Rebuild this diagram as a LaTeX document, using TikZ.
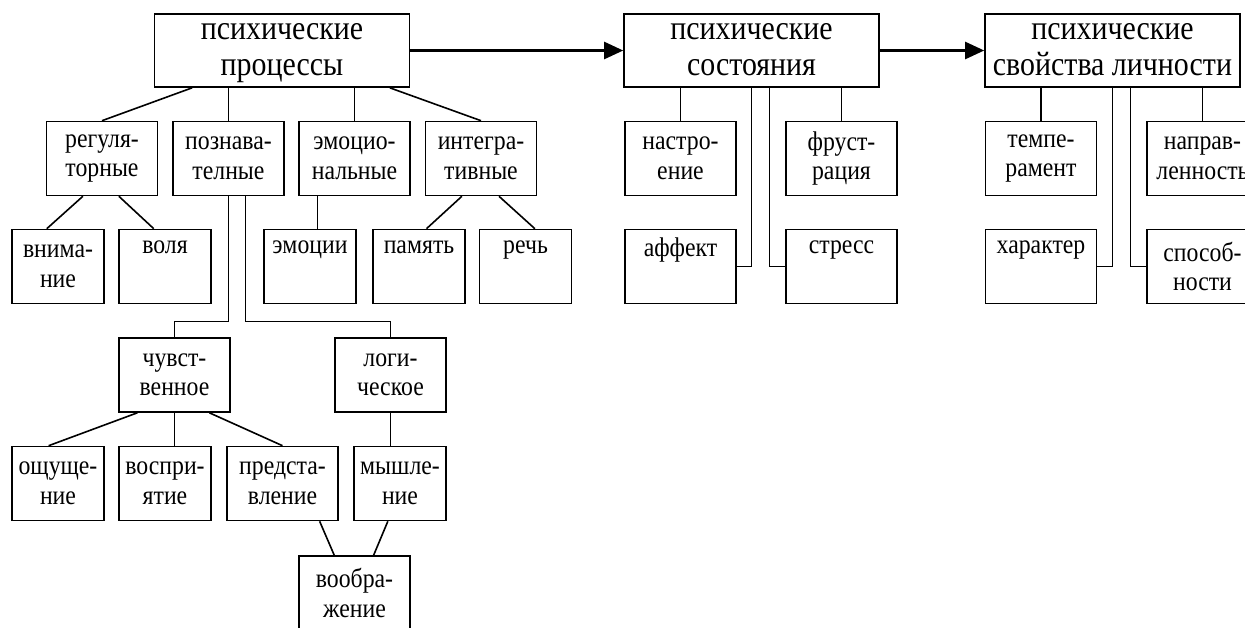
\documentclass[tikz,border=0pt]{standalone}
\usepackage{fontspec}
\setmainfont{Liberation Serif}[FakeStretch=0.88]
\usepackage{tikz}
\usetikzlibrary{arrows.meta,calc}
\newcommand\bigtxt{\fontsize{34}{36}\selectfont}
\newcommand\smtxt{\fontsize{27}{29.5}\selectfont}
\tikzstyle{box} = [draw, line width=1.6pt, align=center, inner sep=0pt, font=\smtxt, minimum height=74pt]
\tikzstyle{head} = [box, font=\bigtxt, minimum width=255pt, minimum height=73pt]
\tikzstyle{wide} = [box, minimum width=111pt]
\tikzstyle{narrow} = [box, minimum width=92pt]
\tikzstyle{arr} = [line width=2.4pt, -{Triangle[length=19pt,width=17pt]}]
\begin{document}
\begin{tikzpicture}[x=1pt,y=-1pt,line width=1.6pt]
  \useasboundingbox (0,0) rectangle (1245,627);
  % main row
  \node[head] (P) at (282,50.5) {\strut психические\\процессы\strut};
  \node[head] (S) at (751.5,50.5) {\strut психические\\состояния\strut};
  \node[head] (L) at (1112.5,50.5) {\strut психические\\свойства личности\strut};
  \draw[arr] (P.east) -- (S.west);
  \draw[arr] (S.east) -- (L.west);
  % processes
  \node[wide] (reg) at (102,158.5) {регуля-\\торные};
  \node[wide] (poz) at (228.5,158.5) {познава-\\телные};
  \node[wide] (emo) at (354.5,158.5) {эмоцио-\\нальные};
  \node[wide] (int) at (481,158.5) {интегра-\\тивные};
  \node[narrow] (vni) at (58,266.5) {внима-\\ние};
  \node[narrow] (vol) at (165,266.5) {воля\\\strut};
  \node[narrow] (emc) at (310,266.5) {эмоции\\\strut};
  \node[narrow] (pam) at (419,266.5) {память\\\strut};
  \node[narrow] (rec) at (525.5,266.5) {речь\\\strut};
  \node[wide] (chuv) at (174.5,375) {чувст-\\венное};
  \node[wide] (log) at (390.5,375) {логи-\\ческое};
  \node[narrow] (osh) at (58,483.5) {ощуще-\\ние};
  \node[narrow] (vos) at (165,483.5) {воспри-\\ятие};
  \node[wide] (pre) at (282.5,483.5) {предста-\\вление};
  \node[narrow] (mys) at (400,483.5) {мышле-\\ние};
  \node[wide] (voo) at (354.5,593) {вообра-\\жение};
  \draw ($(P.south west)!.15!(P.south east)$) -- (reg.north);
  \draw (poz.north) -- (poz.north |- P.south);
  \draw (emo.north) -- (emo.north |- P.south);
  \draw ($(P.south west)!.92!(P.south east)$) -- (int.north);
  \draw ($(reg.south west)!.33!(reg.south east)$) -- ($(vni.north west)!.38!(vni.north east)$);
  \draw ($(reg.south west)!.65!(reg.south east)$) -- ($(vol.north west)!.38!(vol.north east)$);
  \coordinate (e1) at ($(emo.south west)!.17!(emo.south east)$);
  \draw (e1) -- (e1 |- emc.north);
  \draw ($(int.south west)!.33!(int.south east)$) -- ($(pam.north west)!.58!(pam.north east)$);
  \draw ($(int.south west)!.66!(int.south east)$) -- ($(rec.north west)!.6!(rec.north east)$);
  \draw (poz.south) -- ++(0,125) -| (chuv.north);
  \draw ($(poz.south west)!.65!(poz.south east)$) -- ++(0,125) -| (log.north);
  \draw ($(chuv.south west)!.17!(chuv.south east)$) -- ($(osh.north west)!.4!(osh.north east)$);
  \draw (chuv.south) -- (chuv.south |- vos.north);
  \draw ($(chuv.south west)!.81!(chuv.south east)$) -- (pre.north);
  \draw (log.south) -- (log.south |- mys.north);
  \draw ($(pre.south west)!.83!(pre.south east)$) -- ($(voo.north west)!.32!(voo.north east)$);
  \draw ($(mys.south west)!.37!(mys.south east)$) -- ($(voo.north west)!.67!(voo.north east)$);
  % states
  \node[wide] (nas) at (680.5,158.5) {настро-\\ение};
  \node[wide] (fru) at (841.5,158.5) {фруст-\\рация};
  \node[wide] (aff) at (680.5,266.5) {аффект\\\strut};
  \node[wide] (str) at (841.5,266.5) {стресс\\\strut};
  \draw (nas.north) -- (nas.north |- S.south);
  \draw (fru.north) -- (fru.north |- S.south);
  \draw (aff.east) -| (S.south);
  \draw (str.west) -| ($(S.south west)!.57!(S.south east)$);
  % personality
  \node[wide] (tem) at (1041,158.5) {темпе-\\рамент};
  \node[wide] (nap) at (1202.5,158.5) {направ-\\ленность};
  \node[wide] (har) at (1041,266.5) {характер\\\strut};
  \node[wide] (spo) at (1202.5,266.5) {способ-\\ности};
  \draw (tem.north) -- (tem.north |- L.south);
  \draw (nap.north) -- (nap.north |- L.south);
  \draw (har.east) -| (L.south);
  \draw (spo.west) -| ($(L.south west)!.57!(L.south east)$);
\end{tikzpicture}
\end{document}
